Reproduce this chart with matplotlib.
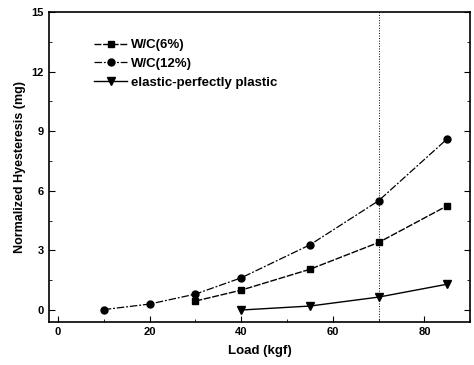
import numpy as np
import matplotlib.pyplot as plt
from matplotlib.ticker import MultipleLocator

plt.rcParams['font.family'] = ['Liberation Sans', 'DejaVu Sans']
plt.rcParams['font.weight'] = 'bold'

# data
load_6 = [30, 40, 55, 70, 85]
wc_6 = [0.45, 1.0, 2.05, 3.4, 5.25]
load_12 = [10, 20, 30, 40, 55, 70, 85]
wc_12 = [0.02, 0.3, 0.8, 1.62, 3.28, 5.5, 8.62]
load_epp = [40, 55, 70, 85]
epp = [0.0, 0.2, 0.65, 1.3]
x_mark = 70

fig = plt.figure(figsize=(4.74, 3.65), dpi=100)
ax = fig.add_axes([0.103, 0.118, 0.889, 0.849])

ax.plot(load_6, wc_6, color='black', lw=1.0, dashes=(5, 1.2), marker='s', ms=5, label='W/C(6%)')
ax.plot(load_12, wc_12, color='black', lw=0.9, dashes=(6, 1.5, 1.5, 1.5), marker='o', ms=5, label='W/C(12%)')
ax.plot(load_epp, epp, color='black', lw=1.0, ls='-', marker='v', ms=6, label='elastic-perfectly plastic')
ax.axvline(x_mark, color='black', lw=0.7, ls=':')

ax.set_xlim(-2, 90)
ax.set_ylim(-0.6, 15)
ax.xaxis.set_major_locator(MultipleLocator(20))
ax.xaxis.set_minor_locator(MultipleLocator(10))
ax.yaxis.set_major_locator(MultipleLocator(3))
ax.yaxis.set_minor_locator(MultipleLocator(1.5))
ax.tick_params(which='both', direction='in', right=True, top=False, labelsize=8)
ax.tick_params(which='major', length=4)
ax.tick_params(which='minor', length=2)
for s in ax.spines.values():
    s.set_linewidth(1.2)

ax.set_xlabel('Load (kgf)', fontsize=9.5, fontweight='bold', labelpad=6)
ax.set_ylabel('Normalized Hyesteresis (mg)', fontsize=9, fontweight='bold')

ax.legend(loc='upper left', bbox_to_anchor=(0.095, 0.93), frameon=False, fontsize=9.5,
          handlelength=2.5, handletextpad=0.3, labelspacing=0.5, borderaxespad=0)

fig.savefig('out.png', dpi=100)
